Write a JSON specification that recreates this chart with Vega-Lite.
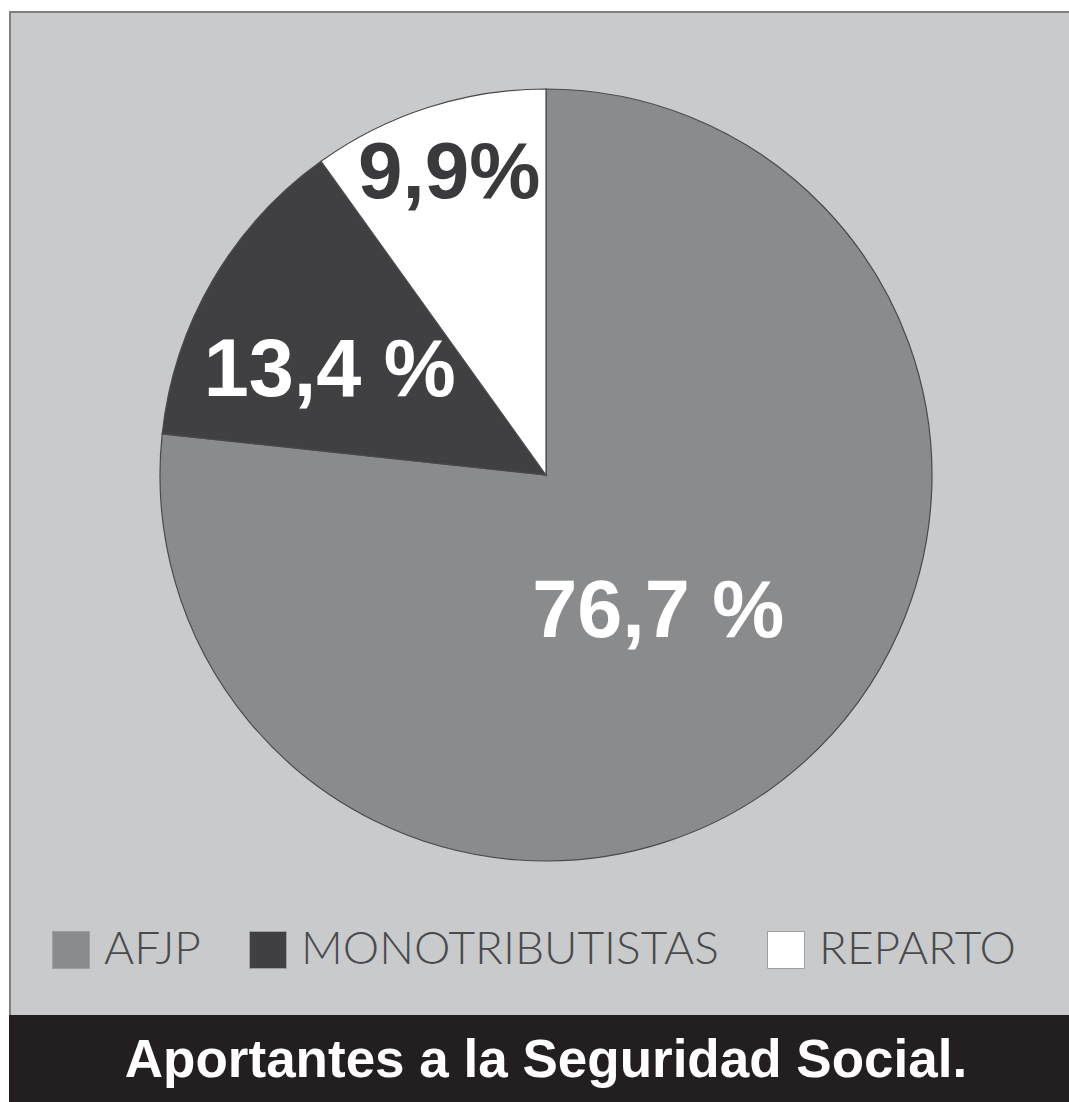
{
  "$schema": "https://vega.github.io/schema/vega-lite/v6.json",
  "background": "white",
  "padding": {"left": 9, "top": 11, "right": 0, "bottom": 0},
  "spacing": 0,
  "datasets": {
    "shares": [
      {"cat": "AFJP", "value": 76.7, "label": "76,7 %"},
      {"cat": "MONOTRIBUTISTAS", "value": 13.4, "label": "13,4 %"},
      {"cat": "REPARTO", "value": 9.9, "label": "9,9%"}
    ],
    "title": [{"t": "Aportantes a la Seguridad Social."}],
    "none": []
  },
  "config": {"view": {"stroke": null}},
  "resolve": {"scale": {"color": "independent"}, "legend": {"color": "independent"}},
  "vconcat": [
    {
      "width": 1060, "height": 2,
      "view": {"fill": "#7f8082", "stroke": null},
      "data": {"name": "none"},
      "mark": "point"
    },
    {
      "spacing": 0,
      "resolve": {"scale": {"color": "independent"}, "legend": {"color": "independent"}},
      "hconcat": [
        {
          "width": 2, "height": 1002,
          "view": {"fill": "#7f8082", "stroke": null},
          "data": {"name": "none"},
          "mark": "point"
        },
        {
          "spacing": 0,
          "resolve": {"scale": {"color": "independent"}, "legend": {"color": "independent"}},
          "vconcat": [
            {
              "width": 1058, "height": 12,
              "view": {"fill": "#c9cacc", "stroke": null},
              "data": {"name": "none"},
              "mark": "point"
            },
            {
              "spacing": 0,
              "resolve": {"scale": {"color": "independent"}, "legend": {"color": "independent"}},
              "hconcat": [
                {
                  "width": 12, "height": 900,
                  "view": {"fill": "#c9cacc", "stroke": null},
                  "data": {"name": "none"},
                  "mark": "point"
                },
                {
                  "width": 1046, "height": 900,
                  "view": {"fill": "#c9cacc", "stroke": null},
                  "data": {"name": "shares"},
                  "layer": [
                    {
                      "mark": {"type": "arc", "outerRadius": 386, "stroke": "#4a4a4c", "strokeWidth": 1.2},
                      "encoding": {
                        "theta": {"field": "value", "type": "quantitative", "stack": true},
                        "order": {"field": "cat", "sort": "ascending"},
                        "color": {
                          "field": "cat", "type": "nominal",
                          "scale": {"domain": ["AFJP", "MONOTRIBUTISTAS", "REPARTO"], "range": ["#8a8b8d", "#404042", "#ffffff"]},
                          "legend": null
                        }
                      }
                    },
                    {
                      "mark": {"type": "text", "radius": 177, "font": "Liberation Sans", "fontWeight": "bold", "fontSize": 81, "fill": "#ffffff", "baseline": "middle", "align": "center", "dx": -6, "dy": 6},
                      "encoding": {
                        "theta": {"field": "value", "type": "quantitative", "stack": true},
                        "order": {"field": "cat", "sort": "ascending"},
                        "detail": {"field": "cat", "type": "nominal"},
                        "text": {"condition": {"test": "datum.cat === 'AFJP'", "field": "label", "type": "nominal"}, "value": ""}
                      }
                    },
                    {
                      "mark": {"type": "text", "radius": 241, "font": "Liberation Sans", "fontWeight": "bold", "fontSize": 81, "fill": "#ffffff", "baseline": "middle", "align": "center", "dx": -8, "dy": 18},
                      "encoding": {
                        "theta": {"field": "value", "type": "quantitative", "stack": true},
                        "order": {"field": "cat", "sort": "ascending"},
                        "detail": {"field": "cat", "type": "nominal"},
                        "text": {"condition": {"test": "datum.cat === 'MONOTRIBUTISTAS'", "field": "label", "type": "nominal"}, "value": ""}
                      }
                    },
                    {
                      "mark": {"type": "text", "radius": 316, "font": "Liberation Sans", "fontWeight": "bold", "fontSize": 80, "fill": "#3a3a3c", "baseline": "middle", "align": "center"},
                      "encoding": {
                        "theta": {"field": "value", "type": "quantitative", "stack": true},
                        "order": {"field": "cat", "sort": "ascending"},
                        "detail": {"field": "cat", "type": "nominal"},
                        "text": {"condition": {"test": "datum.cat === 'REPARTO'", "field": "label", "type": "nominal"}, "value": ""}
                      }
                    }
                  ]
                }
              ]
            },
            {
              "width": 1058, "height": 90,
              "view": {"fill": "#c9cacc", "stroke": null},
              "data": {"name": "shares"},
              "mark": {"type": "square", "opacity": 0},
              "encoding": {
                "color": {
                  "field": "cat", "type": "nominal",
                  "scale": {"domain": ["AFJP", "MONOTRIBUTISTAS", "REPARTO"], "range": ["#8a8b8d", "#404042", "#ffffff"]},
                  "legend": {
                    "title": null,
                    "orient": "none",
                    "legendX": 37,
                    "legendY": 2,
                    "direction": "horizontal",
                    "padding": 0,
                    "symbolType": "square",
                    "symbolSize": 1369,
                    "symbolOpacity": 1,
                    "symbolStrokeColor": "#9d9ea0",
                    "symbolStrokeWidth": 1,
                    "labelFont": "Lato",
                    "labelFontWeight": 300,
                    "labelFontSize": 46,
                    "labelColor": "#4a4a4c",
                    "labelOffset": 10,
                    "labelLimit": 1000,
                    "columnPadding": 44
                  }
                }
              }
            }
          ]
        }
      ]
    },
    {
      "width": 1060, "height": 87,
      "view": {"fill": "#231f20", "stroke": null},
      "data": {"name": "title"},
      "mark": {"type": "text", "font": "Liberation Sans", "fontWeight": "bold", "fontSize": 53, "fill": "#ffffff", "baseline": "middle", "align": "center", "dx": 7, "dy": 2},
      "encoding": {"text": {"field": "t", "type": "nominal"}}
    }
  ]
}
